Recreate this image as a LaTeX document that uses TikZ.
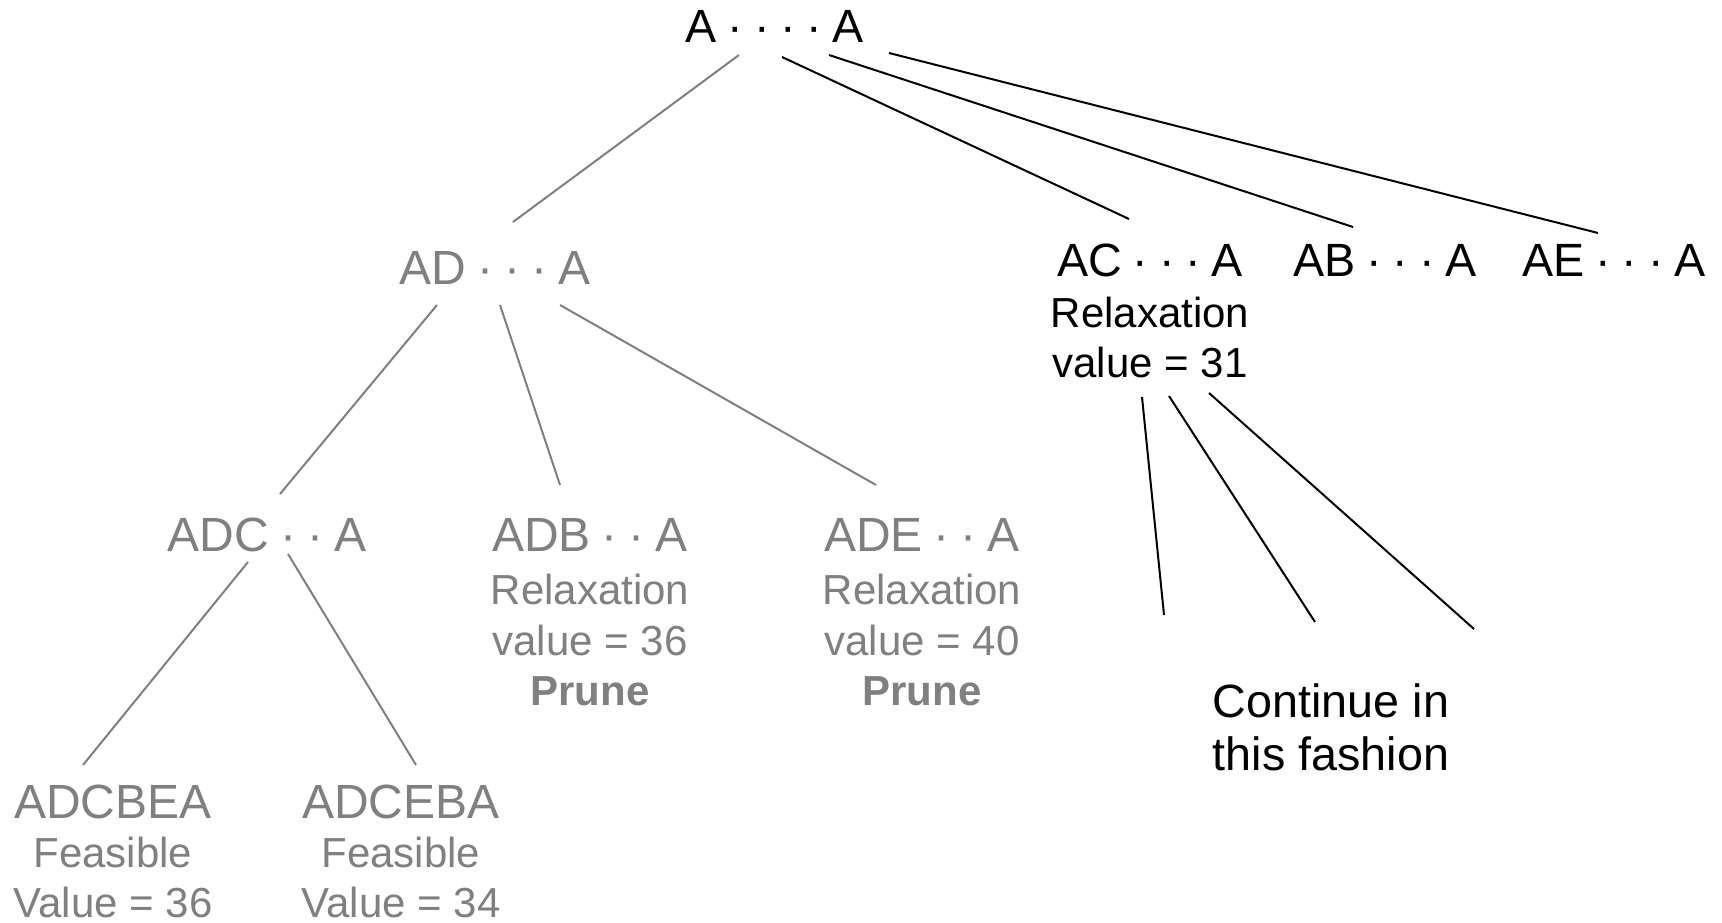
\documentclass[tikz,border=0pt]{standalone}
\usepackage{fontspec}
\setmainfont{Liberation Sans}
% narrower word spaces for the dotted path labels
\newcommand\tightsp{\spaceskip=0.23em\relax}
\begin{document}
\begin{tikzpicture}[x=0.75pt,y=-0.75pt,
  lbl/.style={anchor=base, inner sep=0pt, font=\fontsize{36}{43}\selectfont},
  toplbl/.style={anchor=base, inner sep=0pt, font=\fontsize{35}{42}\selectfont},
  note/.style={anchor=base, inner sep=0pt, font=\fontsize{31.5}{38}\selectfont},
  prune/.style={note, font=\fontsize{31.5}{38}\selectfont\bfseries},
  cont/.style={anchor=base, inner sep=0pt, font=\fontsize{35}{42}\selectfont},
  dim/.style={text=gray},
  greyedge/.style={draw=gray, line width=1.5pt},
  blackedge/.style={draw=black, line width=1.5pt}]
\fill[white] (0,0) rectangle (1722,923);
\useasboundingbox (0,0) rectangle (1722,923);

% root
\node[toplbl] (root) at (775,43) {\tightsp A · · · · A};

% first level
\node[lbl,dim] (ad) at (495,285) {\tightsp AD · · · A};
\node[toplbl] (ac) at (1150,277) {\tightsp AC · · · A};
\node[note] (ac1) at (1150,327) {Relaxation};
\node[note] (ac2) at (1150,377) {value = 31};
\node[toplbl] (ab) at (1385,277) {\tightsp AB · · · A};
\node[toplbl] (ae) at (1614,277) {\tightsp AE · · · A};

% second level
\node[lbl,dim] (adc) at (267,551) {\tightsp ADC · · A};
\node[lbl,dim] (adb) at (590,551) {\tightsp ADB · · A};
\node[note,dim] (adb1) at (590,604) {Relaxation};
\node[note,dim] (adb2) at (590,655) {value = 36};
\node[prune,dim] (adb3) at (590,705) {Prune};
\node[lbl,dim] (ade) at (922,551) {\tightsp ADE · · A};
\node[note,dim] (ade1) at (922,604) {Relaxation};
\node[note,dim] (ade2) at (922,655) {value = 40};
\node[prune,dim] (ade3) at (922,705) {Prune};

% leaves
\node[lbl,dim] (adcbea) at (113,818) {ADCBEA};
\node[note,dim] (adcbea1) at (113,867) {Feasible};
\node[note,dim] (adcbea2) at (113,917) {Value = 36};
\node[lbl,dim] (adceba) at (401,818) {ADCEBA};
\node[note,dim] (adceba1) at (401,867) {Feasible};
\node[note,dim] (adceba2) at (401,917) {Value = 34};

\node[cont] (cont1) at (1331,717) {Continue in};
\node[cont] (cont2) at (1331,770) {this fashion};

% connector end points
\coordinate (root-ad) at (739,55);   \coordinate (ad-root) at (513,222);
\coordinate (root-ac) at (782,57);   \coordinate (ac-root) at (1129,219);
\coordinate (root-ab) at (829,55);   \coordinate (ab-root) at (1353,227);
\coordinate (root-ae) at (889,53);   \coordinate (ae-root) at (1598,233);
\coordinate (ad-adc) at (437,305);   \coordinate (adc-ad) at (280,494);
\coordinate (ad-adb) at (500,305);   \coordinate (adb-ad) at (560,485);
\coordinate (ad-ade) at (560,305);   \coordinate (ade-ad) at (876,485);
\coordinate (adc-l) at (248,562);    \coordinate (adcbea-adc) at (83,765);
\coordinate (adc-r) at (288,554);    \coordinate (adceba-adc) at (416,765);
\coordinate (ac-c1) at (1142,397);   \coordinate (c1) at (1164,615);
\coordinate (ac-c2) at (1169,396);   \coordinate (c2) at (1315,622);
\coordinate (ac-c3) at (1209,393);   \coordinate (c3) at (1474,629);

% pruned / explored branch in grey
\draw[greyedge] (root-ad) -- (ad-root);
\draw[greyedge] (ad-adc) -- (adc-ad);
\draw[greyedge] (ad-adb) -- (adb-ad);
\draw[greyedge] (ad-ade) -- (ade-ad);
\draw[greyedge] (adc-l) -- (adcbea-adc);
\draw[greyedge] (adc-r) -- (adceba-adc);

% remaining branches
\draw[blackedge] (root-ac) -- (ac-root);
\draw[blackedge] (root-ab) -- (ab-root);
\draw[blackedge] (root-ae) -- (ae-root);
\draw[blackedge] (ac-c1) -- (c1);
\draw[blackedge] (ac-c2) -- (c2);
\draw[blackedge] (ac-c3) -- (c3);
\end{tikzpicture}
\end{document}
